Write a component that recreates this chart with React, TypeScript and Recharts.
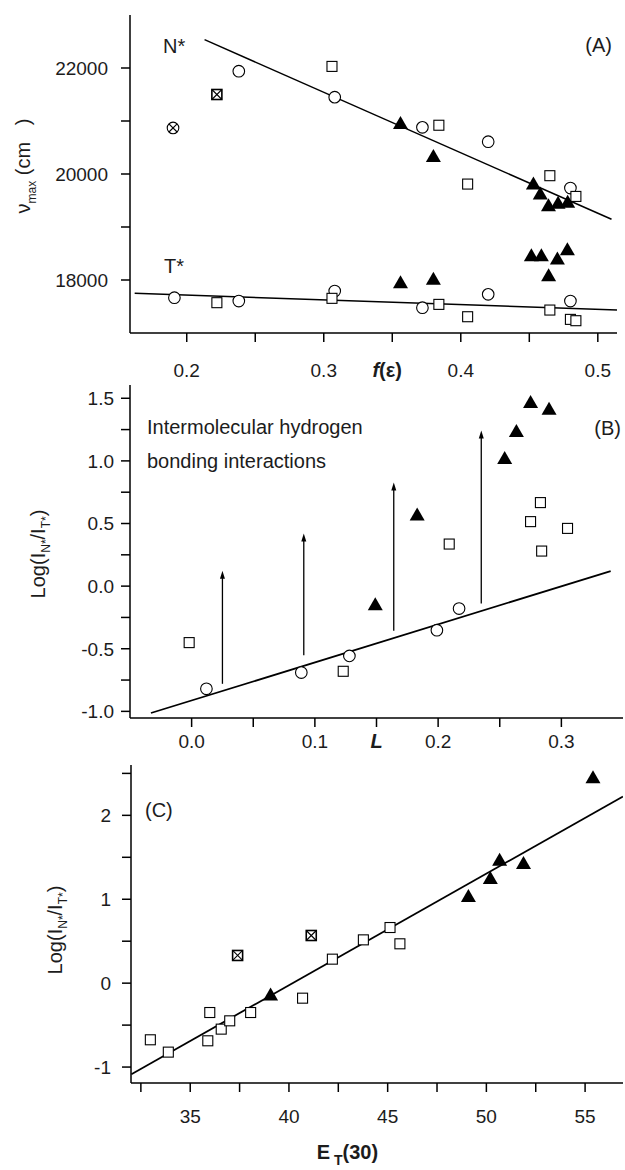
import React from "react";
import { ScatterChart, Scatter, XAxis, YAxis, ReferenceLine } from "recharts";

type Pt = [number, number];

// (A) band maxima vs f(eps): N* (upper) and T* (lower)
const aNCircles: Pt[] = [[0.238, 21940], [0.308, 21450], [0.372, 20880], [0.42, 20610], [0.48, 19735]];
const aNSquares: Pt[] = [[0.306, 22030], [0.384, 20920], [0.405, 19810], [0.465, 19968], [0.484, 19577]];
const aNTriangles: Pt[] = [[0.356, 20970], [0.38, 20350], [0.453, 19830], [0.458, 19640], [0.464, 19420], [0.471, 19465], [0.478, 19485]];
const aNCrossCircles: Pt[] = [[0.19, 20870]];
const aNCrossSquares: Pt[] = [[0.222, 21500]];
const aNFit: Pt[] = [[0.213, 22535], [0.51, 19146]];

const aTCircles: Pt[] = [[0.191, 17666], [0.238, 17603], [0.308, 17792], [0.372, 17477], [0.42, 17729], [0.48, 17603]];
const aTSquares: Pt[] = [[0.222, 17572], [0.306, 17654], [0.384, 17540], [0.405, 17307], [0.465, 17433], [0.48, 17257], [0.484, 17232]];
const aTTriangles: Pt[] = [[0.356, 17968], [0.38, 18031], [0.4515, 18475], [0.4588, 18475], [0.4705, 18415], [0.4641, 18100], [0.4778, 18590]];
const aTFit: Pt[] = [[0.162, 17748], [0.514, 17433]];

const aXMajor = [0.2, 0.3, 0.4, 0.5];
const aXMinor = [0.25, 0.35, 0.45];
const aYMajor = [18000, 20000, 22000];
const aYMinor = [19000, 21000];

// (B) log ratio vs L
const bCircles: Pt[] = [[0.012, -0.82], [0.089, -0.69], [0.128, -0.557], [0.199, -0.352], [0.217, -0.179]];
const bSquares: Pt[] = [[-0.002, -0.451], [0.123, -0.68], [0.209, 0.336], [0.275, 0.515], [0.283, 0.667], [0.284, 0.28], [0.305, 0.461]];
const bTriangles: Pt[] = [[0.149, -0.14], [0.183, 0.576], [0.254, 1.027], [0.2635, 1.243], [0.275, 1.475], [0.29, 1.421]];
const bFit: Pt[] = [[-0.033, -1.013], [0.34, 0.12]];
const bArrowX = [0.025, 0.091, 0.164, 0.235];
const bArrowFrom = [-0.78, -0.552, -0.357, -0.139];
const bArrowTo = [0.123, 0.421, 0.827, 1.243];

const bXMajor = [0, 0.1, 0.2, 0.3];
const bXMinor = [0.05, 0.15, 0.25];
const bYMajor = [-1, -0.5, 0, 0.5, 1, 1.5];
const bYMinor = [-0.75, -0.25, 0.25, 0.75, 1.25];

// (C) log ratio vs ET(30)
const cSquares: Pt[] = [[32.98, -0.675], [33.89, -0.822], [35.89, -0.687], [35.99, -0.35], [36.57, -0.548], [37.0, -0.449], [38.06, -0.35], [40.69, -0.179], [42.2, 0.286], [43.77, 0.516], [45.12, 0.663], [45.62, 0.469]];
const cCrossSquares: Pt[] = [[37.4, 0.33], [41.13, 0.568]];
const cTriangles: Pt[] = [[39.07, -0.13], [49.09, 1.045], [50.2, 1.26], [50.67, 1.478], [51.88, 1.438], [55.4, 2.46]];
const cFit: Pt[] = [[32.02, -1.085], [56.92, 2.225]];

const cXMajor = [35, 40, 45, 50, 55];
const cXMinor = [32.5, 37.5, 42.5, 47.5, 52.5];
const cYMajor = [-1, 0, 1, 2];
const cYMinor = [-0.5, 0.5, 1.5, 2.5];

const FONT = '"Liberation Sans", Arial, sans-serif';
const INK = "#1c1c1c";
const AXIS = { stroke: "#000", strokeWidth: 1.5 };

const toXY = (pts: Pt[]) => pts.map(([x, y]) => ({ x, y }));
const sorted = (a: number[], b: number[]) => [...a, ...b].sort((p, q) => p - q);
const isIn = (arr: number[], v: number) => arr.some((m) => Math.abs(m - v) < 1e-9);

function OpenCircle({ cx, cy }: any) {
  return <circle cx={cx} cy={cy} r={5.8} fill="#fff" stroke="#000" strokeWidth={1.1} />;
}
function OpenSquare({ cx, cy }: any) {
  return <rect x={cx - 5} y={cy - 5} width={10} height={10} fill="#fff" stroke="#000" strokeWidth={1.1} />;
}
function CrossSquare({ cx, cy }: any) {
  return (
    <g stroke="#000" strokeWidth={1.1}>
      <rect x={cx - 5} y={cy - 5} width={10} height={10} fill="#fff" strokeWidth={1.6} />
      <line x1={cx - 5} y1={cy - 5} x2={cx + 5} y2={cy + 5} />
      <line x1={cx - 5} y1={cy + 5} x2={cx + 5} y2={cy - 5} />
    </g>
  );
}
function CrossCircle({ cx, cy }: any) {
  const d = 5.8 * 0.707;
  return (
    <g stroke="#000" strokeWidth={1.1}>
      <circle cx={cx} cy={cy} r={5.8} fill="#fff" />
      <line x1={cx - d} y1={cy - d} x2={cx + d} y2={cy + d} />
      <line x1={cx - d} y1={cy + d} x2={cx + d} y2={cy - d} />
    </g>
  );
}
function Triangle({ cx, cy }: any) {
  return <polygon points={`${cx},${cy - 6.5} ${cx - 7.5},${cy + 6.5} ${cx + 7.5},${cy + 6.5}`} fill="#000" />;
}
const Nothing = () => <g />;

function Arrow(props: any) {
  const { x1, y1, x2, y2 } = props;
  return (
    <g>
      <line x1={x1} y1={y1} x2={x2} y2={y2 + 6} stroke="#000" strokeWidth={1.3} />
      <polygon points={`${x2},${y2} ${x2 - 2.5},${y2 + 8} ${x2 + 2.5},${y2 + 8}`} fill="#000" />
    </g>
  );
}

const makeYTick = (major: number[], fmt: (v: number) => string, gap: number) => (props: any) => {
  const { x, y, payload } = props;
  const v = payload.value;
  return (
    <g>
      <line x1={x - 9} x2={x} y1={y} y2={y} stroke="#000" strokeWidth={1.5} />
      {isIn(major, v) && (
        <text x={x - gap} y={y} dy="0.36em" textAnchor="end" fontSize={19} fontFamily={FONT} fill={INK}>
          {fmt(v)}
        </text>
      )}
    </g>
  );
};

const makeXTick = (major: number[], fmt: (v: number) => string, drop: number) => (props: any) => {
  const { x, y, payload } = props;
  const v = payload.value;
  return (
    <g>
      <line x1={x} x2={x} y1={y} y2={y + 9} stroke="#000" strokeWidth={1.5} />
      {isIn(major, v) && (
        <text x={x} y={y + drop} textAnchor="middle" fontSize={19} fontFamily={FONT} fill={INK}>
          {fmt(v)}
        </text>
      )}
    </g>
  );
};

// top + right frame lines
function Frame() {
  return [
    <XAxis key="t" xAxisId="top" orientation="top" type="number" height={0} tick={false} tickLine={false} axisLine={AXIS} />,
    <YAxis key="r" yAxisId="right" orientation="right" type="number" width={0} tick={false} tickLine={false} axisLine={AXIS} />,
  ];
}

const yTitle = (cy: number, bx: number, parts: React.ReactNode) => (p: any) => (
  <text
    x={bx}
    y={cy}
    transform={`rotate(-90 ${bx} ${cy})`}
    textAnchor="middle"
    fontSize={20}
    fontFamily={FONT}
    fill={INK}
    style={{ whiteSpace: "pre" }}
  >
    {parts}
  </text>
);

const logParts = (
  <>
    Log(I<tspan fontSize={12} dy={5}>N*</tspan>
    <tspan dy={-5}>/I</tspan>
    <tspan fontSize={12} dy={5}>T*</tspan>
    <tspan dy={-5}>)</tspan>
  </>
);

export default function App() {
  return (
    <div style={{ position: "absolute", left: 0, top: 0, width: 625, height: 1170, background: "#fff" }}>
      {/* (A) */}
      <div style={{ position: "absolute", left: 0, top: 0 }}>
        <ScatterChart width={625} height={390} margin={{ top: 15, right: 8, bottom: 0, left: 0 }}>
          <XAxis
            dataKey="x"
            type="number"
            domain={[0.1586, 0.514]}
            allowDataOverflow
            ticks={sorted(aXMajor, aXMinor)}
            interval={0}
            tickSize={0}
            tickMargin={0}
            height={57}
            axisLine={AXIS}
            tickLine={false}
            tick={makeXTick(aXMajor, (v) => v.toFixed(1), 44)}
            label={{
              content: ({ viewBox }: any) => (
                <text x={viewBox.x + 0.528 * viewBox.width} y={viewBox.y + 44} textAnchor="middle" fontSize={20} fontFamily={FONT} fontWeight="bold" fill={INK}>
                  <tspan fontStyle="italic">f</tspan>(ε)
                </text>
              ),
            }}
          />
          <YAxis
            dataKey="y"
            type="number"
            domain={[17000, 23000]}
            allowDataOverflow
            ticks={sorted(aYMajor, aYMinor)}
            interval={0}
            tickSize={0}
            tickMargin={0}
            width={130}
            axisLine={AXIS}
            tickLine={false}
            tick={makeYTick(aYMajor, (v) => String(v), 22)}
            label={{
              content: yTitle(166, 30, (
                <>
                  ν<tspan fontSize={12} dy={6}>max</tspan>
                  <tspan dy={-6}>{" (cm\u00a0\u00a0\u00a0)"}</tspan>
                </>
              )),
            }}
          />
          {Frame()}
          <Scatter data={toXY(aNFit)} line={{ stroke: "#000", strokeWidth: 1.5 }} shape={Nothing} isAnimationActive={false} />
          <Scatter data={toXY(aTFit)} line={{ stroke: "#000", strokeWidth: 1.5 }} shape={Nothing} isAnimationActive={false} />
          <Scatter data={toXY(aNCircles)} shape={OpenCircle} isAnimationActive={false} />
          <Scatter data={toXY(aNSquares)} shape={OpenSquare} isAnimationActive={false} />
          <Scatter data={toXY(aNCrossCircles)} shape={CrossCircle} isAnimationActive={false} />
          <Scatter data={toXY(aNCrossSquares)} shape={CrossSquare} isAnimationActive={false} />
          <Scatter data={toXY(aNTriangles)} shape={Triangle} isAnimationActive={false} />
          <Scatter data={toXY(aTCircles)} shape={OpenCircle} isAnimationActive={false} />
          <Scatter data={toXY(aTSquares)} shape={OpenSquare} isAnimationActive={false} />
          <Scatter data={toXY(aTTriangles)} shape={Triangle} isAnimationActive={false} />
        </ScatterChart>
      </div>

      {/* (B) */}
      <div style={{ position: "absolute", left: 0, top: 380 }}>
        <ScatterChart width={625} height={380} margin={{ top: 5, right: 2, bottom: 0, left: 0 }}>
          <XAxis
            dataKey="x"
            type="number"
            domain={[-0.05, 0.35]}
            allowDataOverflow
            ticks={sorted(bXMajor, bXMinor)}
            interval={0}
            tickSize={0}
            tickMargin={0}
            height={42}
            axisLine={AXIS}
            tickLine={false}
            tick={makeXTick(bXMajor, (v) => v.toFixed(1), 30)}
            label={{
              content: ({ viewBox }: any) => (
                <text x={viewBox.x + 0.5 * viewBox.width} y={viewBox.y + 30} textAnchor="middle" fontSize={20} fontFamily={FONT} fontWeight="bold" fontStyle="italic" fill={INK}>
                  L
                </text>
              ),
            }}
          />
          <YAxis
            dataKey="y"
            type="number"
            domain={[-1.053, 1.606]}
            allowDataOverflow
            ticks={sorted(bYMajor, bYMinor)}
            interval={0}
            tickSize={0}
            tickMargin={0}
            width={130}
            axisLine={AXIS}
            tickLine={false}
            tick={makeYTick(bYMajor, (v) => v.toFixed(1), 16)}
            label={{ content: yTitle(174, 45, logParts) }}
          />
          {Frame()}
          <Scatter data={toXY(bFit)} line={{ stroke: "#000", strokeWidth: 1.8 }} shape={Nothing} isAnimationActive={false} />
          {bArrowX.map((x, i) => (
            <ReferenceLine
              key={i}
              segment={[{ x, y: bArrowFrom[i] }, { x, y: bArrowTo[i] }]}
              shape={Arrow}
            />
          ))}
          <Scatter data={toXY(bCircles)} shape={OpenCircle} isAnimationActive={false} />
          <Scatter data={toXY(bSquares)} shape={OpenSquare} isAnimationActive={false} />
          <Scatter data={toXY(bTriangles)} shape={Triangle} isAnimationActive={false} />
        </ScatterChart>
      </div>

      {/* (C) */}
      <div style={{ position: "absolute", left: 0, top: 760 }}>
        <ScatterChart width={625} height={410} margin={{ top: 5, right: 2, bottom: 0, left: 0 }}>
          <XAxis
            dataKey="x"
            type="number"
            domain={[32, 56.92]}
            allowDataOverflow
            ticks={sorted(cXMajor, cXMinor)}
            interval={0}
            tickSize={0}
            tickMargin={0}
            height={87}
            axisLine={AXIS}
            tickLine={false}
            tick={makeXTick(cXMajor, (v) => String(v), 40)}
            label={{
              content: ({ viewBox }: any) => (
                <text x={viewBox.x + 0.44 * viewBox.width} y={viewBox.y + 76} textAnchor="middle" fontSize={20} fontFamily={FONT} fontWeight="bold" fill={INK} style={{ whiteSpace: "pre" }}>
                  E<tspan fontSize={14} dy={6}>{" T"}</tspan>
                  <tspan dy={-6}>(30)</tspan>
                </text>
              ),
            }}
          />
          <YAxis
            dataKey="y"
            type="number"
            domain={[-1.19, 2.6]}
            allowDataOverflow
            ticks={sorted(cYMajor, cYMinor)}
            interval={0}
            tickSize={0}
            tickMargin={0}
            width={131}
            axisLine={AXIS}
            tickLine={false}
            tick={makeYTick(cYMajor, (v) => String(v), 20)}
            label={{ content: yTitle(170, 62, logParts) }}
          />
          {Frame()}
          <Scatter data={toXY(cFit)} line={{ stroke: "#000", strokeWidth: 1.8 }} shape={Nothing} isAnimationActive={false} />
          <Scatter data={toXY(cSquares)} shape={OpenSquare} isAnimationActive={false} />
          <Scatter data={toXY(cCrossSquares)} shape={CrossSquare} isAnimationActive={false} />
          <Scatter data={toXY(cTriangles)} shape={Triangle} isAnimationActive={false} />
        </ScatterChart>
      </div>

      {/* panel annotations */}
      <svg width={625} height={1170} style={{ position: "absolute", left: 0, top: 0, pointerEvents: "none" }} fontFamily={FONT} fill={INK}>
        <text x={163} y={53} fontSize={20}>N*</text>
        <text x={164} y={273} fontSize={20}>T*</text>
        <text x={612} y={52} fontSize={20} textAnchor="end">(A)</text>
        <text x={147} y={434} fontSize={20}>Intermolecular hydrogen</text>
        <text x={147} y={468} fontSize={20}>bonding interactions</text>
        <text x={621} y={435} fontSize={20} textAnchor="end">(B)</text>
        <text x={145} y={817} fontSize={20}>(C)</text>
      </svg>
    </div>
  );
}
